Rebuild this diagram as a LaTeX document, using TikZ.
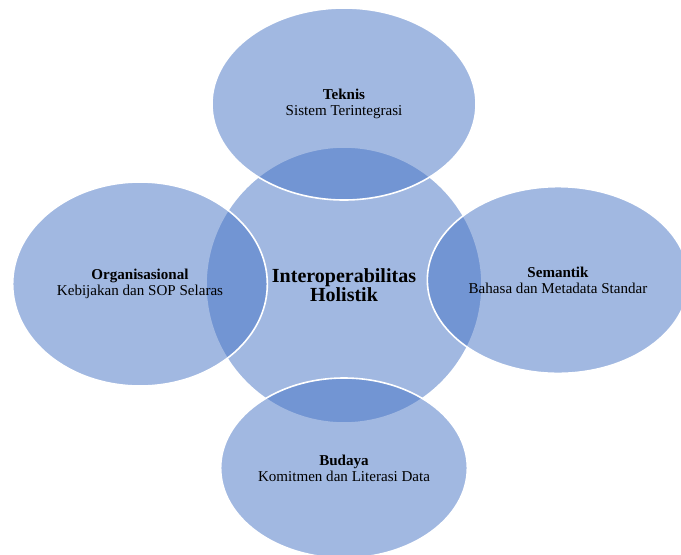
\documentclass[tikz,border=0pt]{standalone}
\usepackage{fontspec}
\setmainfont{Liberation Serif}
\usetikzlibrary{shapes.geometric}
\definecolor{petalblue}{HTML}{4472C4}

\begin{document}
\begin{tikzpicture}[x=0.75pt,y=-0.75pt,
  bubble/.style={draw=white, line width=1.2pt, fill=petalblue, fill opacity=0.5, text opacity=1, align=center, inner sep=0pt, font=\fontsize{11.3}{12}\selectfont},
  hub/.style={bubble, circle, minimum size=207pt, font=\fontsize{15}{14.5}\selectfont\bfseries},
  petal/.style={bubble, ellipse}]
\useasboundingbox (0,0) rectangle (681,554);
\node[hub] (holistik) at (344,285) {Interoperabilitas\\Holistik};
\node[petal, minimum width=198pt, minimum height=144pt] (teknis) at (344,104) {\textbf{Teknis}\\Sistem Terintegrasi};
\node[petal, minimum width=191pt, minimum height=153pt] (organisasional) at (140,284) {\textbf{Organisasional}\\Kebijakan dan SOP Selaras};
\node[petal, minimum width=196pt, minimum height=140pt] (semantik) at (558,280) {\textbf{Semantik}\\Bahasa dan Metadata Standar};
\node[petal, minimum width=185pt, minimum height=135pt] (budaya) at (344,468) {\textbf{Budaya}\\Komitmen dan Literasi Data};
\end{tikzpicture}
\end{document}
